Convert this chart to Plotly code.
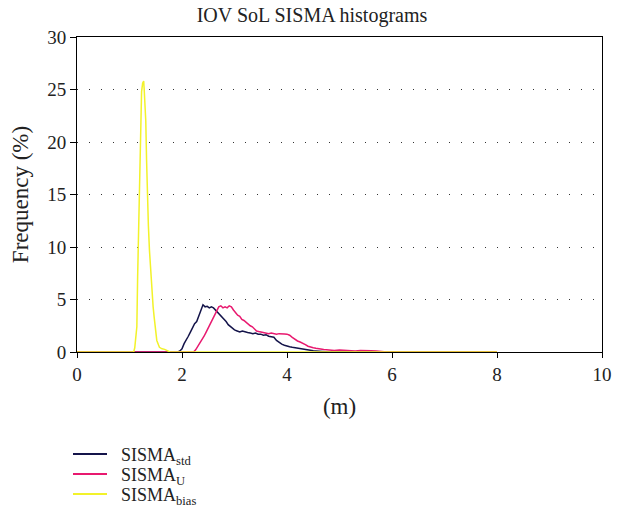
import plotly.graph_objects as go

# Histogram of SISMA components (frequency in % per range bin, metres)
std_x = [0.0, 1.92, 1.96, 2.00, 2.04, 2.08, 2.12, 2.16, 2.20, 2.24, 2.28, 2.32, 2.36, 2.40,
         2.44, 2.48, 2.52, 2.56, 2.60, 2.64, 2.68, 2.72, 2.76, 2.80, 2.84, 2.88, 2.92, 2.96,
         3.00, 3.05, 3.10, 3.15, 3.20, 3.25, 3.30, 3.35, 3.40, 3.45, 3.50, 3.55, 3.60, 3.65,
         3.70, 3.75, 3.80, 3.85, 3.90, 3.95, 4.00, 4.05, 4.10, 4.15, 4.20, 4.25, 4.30, 4.35,
         4.40, 4.45, 4.50, 4.55, 4.60, 4.65, 4.70, 4.75, 4.80, 8.0]
std_y = [0.0, 0.0, 0.1, 0.3, 0.8, 1.1, 1.5, 1.9, 2.3, 2.7, 2.9, 3.5, 4.0, 4.5,
         4.3, 4.35, 4.2, 4.3, 4.2, 4.0, 3.7, 3.5, 3.3, 3.1, 2.9, 2.6, 2.4, 2.3,
         2.1, 2.0, 1.9, 2.0, 1.9, 1.85, 1.8, 1.75, 1.8, 1.7, 1.7, 1.6, 1.65, 1.5,
         1.45, 1.4, 1.1, 0.9, 0.75, 0.65, 0.55, 0.5, 0.45, 0.4, 0.35, 0.3, 0.25, 0.2,
         0.22, 0.15, 0.12, 0.1, 0.08, 0.1, 0.05, 0.03, 0.0, 0.0]

u_x = [0.0, 2.22, 2.26, 2.30, 2.34, 2.38, 2.42, 2.46, 2.50, 2.54, 2.58, 2.62, 2.66, 2.70,
       2.74, 2.78, 2.82, 2.86, 2.90, 2.94, 2.98, 3.02, 3.06, 3.10, 3.14, 3.18, 3.22, 3.26,
       3.30, 3.34, 3.38, 3.42, 3.46, 3.50, 3.55, 3.60, 3.65, 3.70, 3.75, 3.80, 3.85, 3.90,
       3.95, 4.00, 4.05, 4.10, 4.15, 4.20, 4.25, 4.30, 4.35, 4.40, 4.45, 4.50, 4.55, 4.60,
       4.70, 4.80, 4.90, 5.00, 5.10, 5.20, 5.30, 5.40, 5.50, 5.60, 5.70, 5.80, 5.90, 8.0]
u_y = [0.0, 0.0, 0.2, 0.5, 0.9, 1.2, 1.5, 1.9, 2.3, 2.7, 3.1, 3.5, 3.9, 4.3,
       4.4, 4.2, 4.3, 4.2, 4.4, 4.3, 4.0, 3.7, 3.5, 3.4, 3.1, 3.0, 2.8, 2.7,
       2.5, 2.4, 2.2, 2.0, 1.95, 1.9, 1.85, 1.8, 1.75, 1.8, 1.75, 1.7, 1.75, 1.7,
       1.72, 1.7, 1.6, 1.4, 1.2, 1.05, 0.95, 0.85, 0.7, 0.55, 0.45, 0.4, 0.35, 0.3,
       0.25, 0.2, 0.15, 0.2, 0.15, 0.12, 0.1, 0.15, 0.1, 0.12, 0.1, 0.08, 0.0, 0.0]

bias_x = [0.0, 1.08, 1.10, 1.12, 1.14, 1.155, 1.17, 1.19, 1.21, 1.23, 1.25, 1.27, 1.28,
          1.31, 1.325, 1.34, 1.36, 1.38, 1.41, 1.43, 1.45, 1.47, 1.49, 1.52, 1.57, 1.62,
          1.67, 1.72, 1.77, 8.0]
bias_y = [0.0, 0.0, 0.4, 1.2, 2.4, 7.2, 11.0, 15.0, 23.0, 24.8, 25.6, 25.8, 25.0,
          22.0, 18.3, 14.5, 12.0, 9.7, 6.9, 5.9, 4.3, 3.3, 2.4, 1.1, 0.45, 0.3,
          0.25, 0.15, 0.0, 0.0]

series_names = ["SISMA<sub>std</sub>", "SISMA<sub>U</sub>", "SISMA<sub>bias</sub>"]
series_colors = ["#14144a", "#e8196f", "#f2f22a"]
series_data = [(std_x, std_y), (u_x, u_y), (bias_x, bias_y)]

x_ticks = [0, 2, 4, 6, 8, 10]
y_ticks = [0, 5, 10, 15, 20, 25, 30]

W, H = 624, 518
ML, MR, MT, MB = 77, 22, 37, 166
plot_w = W - ML - MR
plot_h = H - MT - MB

fig = go.Figure()
for name, (xs, ys), color in zip(series_names, series_data, series_colors):
    fig.add_trace(go.Scatter(
        x=xs, y=ys, mode="lines", name=name, showlegend=False,
        line=dict(color=color, width=1.5),
    ))

serif = "Liberation Serif, Times New Roman, serif"

# Key below the plot: short coloured strokes with their labels
def px_x(px):
    return (px - ML) / plot_w

def px_y(py):
    return (H - MB - py) / plot_h

row_px = [454, 474, 494]
for name, color, py in zip(series_names, series_colors, row_px):
    fig.add_shape(type="line", xref="paper", yref="paper",
                  x0=px_x(73), x1=px_x(107), y0=px_y(py), y1=px_y(py),
                  line=dict(color=color, width=2))
    fig.add_annotation(text=name, xref="paper", yref="paper",
                       x=px_x(119), y=px_y(py + 2), xanchor="left", yanchor="middle",
                       showarrow=False, font=dict(size=18, family=serif, color="#222"))

fig.update_layout(
    width=W, height=H,
    margin=dict(l=ML, r=MR, t=MT, b=MB, autoexpand=False),
    paper_bgcolor="white", plot_bgcolor="white",
    font=dict(family=serif, size=19, color="#222"),
    title=dict(text="IOV SoL SISMA histograms", x=0.5, xanchor="center",
               y=0.972, yanchor="middle", font=dict(size=20, family=serif)),
    showlegend=False,
    xaxis=dict(
        range=[0, 10], tickvals=x_ticks, ticks="outside", ticklen=5,
        tickcolor="black", showline=True, linecolor="black", linewidth=1,
        mirror=True, showgrid=False, zeroline=False,
        title=dict(text="(m)", standoff=14),
    ),
    yaxis=dict(
        range=[0, 30], tickvals=y_ticks, ticks="outside", ticklen=6,
        tickcolor="black", showline=True, linecolor="black", linewidth=1,
        mirror=True, showgrid=True, gridcolor="#333", gridwidth=1,
        griddash="1px,11px", zeroline=False,
        title=dict(text="Frequency (%)", standoff=12),
    ),
)

fig.write_html("out.html")
